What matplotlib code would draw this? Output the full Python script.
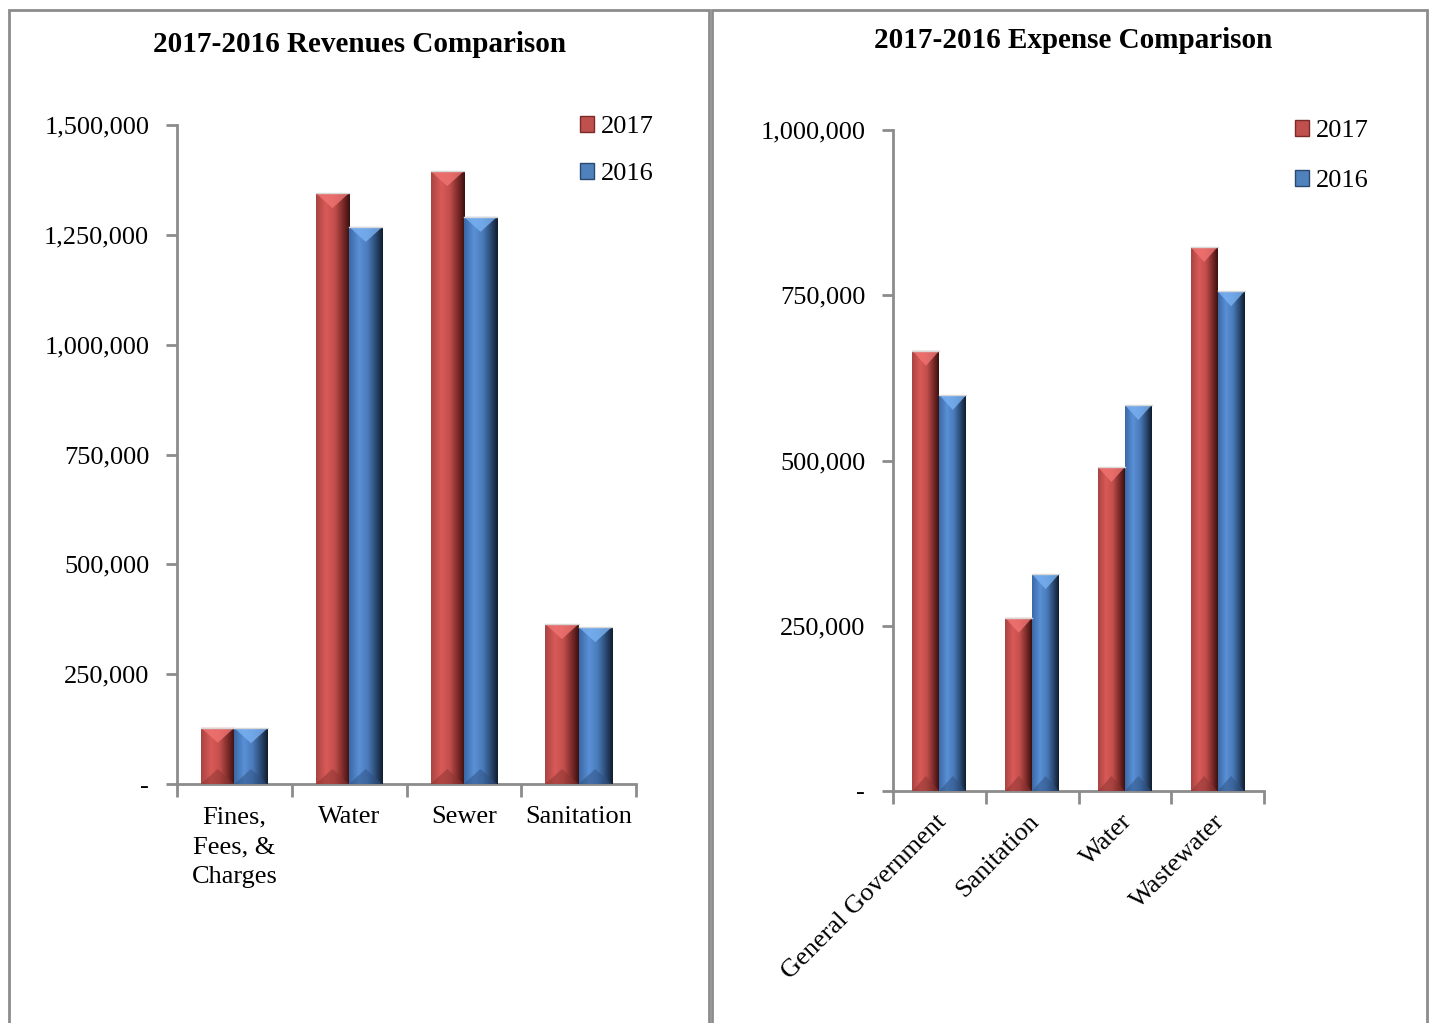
import numpy as np
import matplotlib.pyplot as plt
import matplotlib.transforms as mtransforms
from matplotlib.colors import LinearSegmentedColormap
from matplotlib.patches import Polygon, Rectangle, Patch
from matplotlib.ticker import FuncFormatter, FixedLocator

plt.rcParams['font.family'] = ['Liberation Serif', 'DejaVu Serif']

# Revenues data
rev_categories = ['Fines,\nFees, &\nCharges', 'Water', 'Sewer', 'Sanitation']
rev_2017 = [128000, 1345000, 1395000, 364000]
rev_2016 = [127000, 1268000, 1291000, 357000]

# Expense data
exp_categories = ['General Government', 'Sanitation', 'Water', 'Wastewater']
exp_2017 = [666000, 262000, 490000, 823000]
exp_2016 = [599000, 328000, 584000, 756000]

years = ['2017', '2016']

red_cmap = LinearSegmentedColormap.from_list(
    'red3d', [(0, '#a84442'), (0.3, '#d95a58'), (0.55, '#c24f4c'), (0.8, '#7a2a28'), (1, '#3a1010')])
blue_cmap = LinearSegmentedColormap.from_list(
    'blue3d', [(0, '#3a68a6'), (0.3, '#5a90d6'), (0.55, '#4a7cbc'), (0.8, '#2a4870'), (1, '#101c2c')])
top_col = {'red': '#f07472', 'blue': '#7ab2f2'}
base_col = {'red': '#8a3432', 'blue': '#2e5080'}
grad = np.linspace(0, 1, 256).reshape(1, -1)


def bevel_bars(ax, bars, cmap, kind, bevel_px):
    ymin, ymax = ax.get_ylim()
    h_px = ax.get_position().height * ax.figure.get_figheight() * ax.figure.dpi
    d = bevel_px / h_px * (ymax - ymin)
    for b in bars:
        x0, w, h = b.get_x(), b.get_width(), b.get_height()
        im = ax.imshow(grad, extent=[x0, x0 + w, 0, h], aspect='auto', cmap=cmap,
                       zorder=3, interpolation='bilinear')
        im.set_clip_path(b)
        ax.add_patch(Polygon([(x0, h), (x0 + w, h), (x0 + w / 2, h - d)],
                             closed=True, facecolor=top_col[kind], edgecolor='none',
                             alpha=0.8, zorder=4))
        ax.add_patch(Polygon([(x0, 0), (x0 + w, 0), (x0 + w / 2, d)],
                             closed=True, facecolor=base_col[kind], edgecolor='none',
                             alpha=0.5, zorder=4))
        ax.plot([x0, x0 + w], [h, h], color='#d8d8d8', lw=1, zorder=5)


def style_axis(ax, n):
    for s in ['top', 'right']:
        ax.spines[s].set_visible(False)
    for s in ['left', 'bottom']:
        ax.spines[s].set_color('#8c8c8c')
        ax.spines[s].set_linewidth(2)
    ax.set_xlim(-0.5, n - 0.5)
    ax.set_xticks(range(n))
    ax.xaxis.set_minor_locator(FixedLocator(np.arange(-0.5, n, 1)))
    ax.tick_params(axis='x', which='major', length=0)
    ax.tick_params(axis='x', which='minor', length=9, width=2, color='#8c8c8c', direction='out')
    ax.tick_params(axis='y', length=8, width=2, color='#8c8c8c', direction='out',
                   labelsize=19, pad=12)
    ax.yaxis.set_major_formatter(FuncFormatter(lambda v, p: '-' if v == 0 else f'{v:,.0f}'))


fig = plt.figure(figsize=(14.32, 10.23), dpi=100)

# panel borders
fig.patches.append(Rectangle((9 / 1432, -0.01), 700 / 1432, 1.0 - 10 / 1023 + 0.01,
                             transform=fig.transFigure, fill=False, edgecolor='#8c8c8c', lw=2))
fig.patches.append(Rectangle((712 / 1432, -0.01), 715 / 1432, 1.0 - 10 / 1023 + 0.01,
                             transform=fig.transFigure, fill=False, edgecolor='#8c8c8c', lw=2))

width = 0.29

# Left: revenues
ax1 = fig.add_axes([177 / 1432, 239 / 1023, 459 / 1432, 659 / 1023])
x = np.arange(len(rev_categories))
ax1.set_ylim(0, 1500000)
ax1.set_yticks(np.arange(0, 1500001, 250000))
b1 = ax1.bar(x - width / 2, rev_2017, width, color='#c0504d', zorder=2)
b2 = ax1.bar(x + width / 2, rev_2016, width, color='#4f81bd', zorder=2)
style_axis(ax1, len(rev_categories))
ax1.set_ylim(0, 1500000)
bevel_bars(ax1, b1, red_cmap, 'red', 15)
bevel_bars(ax1, b2, blue_cmap, 'blue', 15)
ax1.set_xlim(-0.5, len(rev_categories) - 0.5)
ax1.set_ylim(0, 1500000)
ax1.set_xticklabels(rev_categories, fontsize=19, linespacing=1.46)
ax1.tick_params(axis='x', which='major', pad=16)
fig.text(360 / 1432, 1 - 44 / 1023, '2017-2016 Revenues Comparison', ha='center', va='center',
         fontsize=21, fontweight='bold')

# Right: expenses
ax2 = fig.add_axes([893 / 1432, 232 / 1023, 371 / 1432, 661 / 1023])
x = np.arange(len(exp_categories))
ax2.set_ylim(0, 1000000)
ax2.set_yticks(np.arange(0, 1000001, 250000))
c1 = ax2.bar(x - width / 2, exp_2017, width, color='#c0504d', zorder=2)
c2 = ax2.bar(x + width / 2, exp_2016, width, color='#4f81bd', zorder=2)
style_axis(ax2, len(exp_categories))
ax2.set_ylim(0, 1000000)
bevel_bars(ax2, c1, red_cmap, 'red', 15)
bevel_bars(ax2, c2, blue_cmap, 'blue', 15)
ax2.set_xlim(-0.5, len(exp_categories) - 0.5)
ax2.set_ylim(0, 1000000)
ax2.set_xticklabels(exp_categories, fontsize=19, rotation=45, ha='right', va='top',
                    rotation_mode='anchor')
ax2.tick_params(axis='x', which='major', pad=14)
shift = mtransforms.ScaledTranslation(-4 / 100, 0, fig.dpi_scale_trans)
for lbl in ax2.get_xticklabels():
    lbl.set_transform(lbl.get_transform() + shift)
fig.text(1073 / 1432, 1 - 40 / 1023, '2017-2016 Expense Comparison', ha='center', va='center',
         fontsize=21, fontweight='bold')

# legends
handles = [Patch(facecolor='#c0504d', edgecolor='#7a2a28'),
           Patch(facecolor='#4f81bd', edgecolor='#2a4870')]
fig.legend(handles, years, loc='upper left', bbox_to_anchor=(556 / 1432, 1 - 92 / 1023),
           frameon=False, fontsize=19, handlelength=0.55, handleheight=0.55, handletextpad=0.25,
           labelspacing=0.95)
fig.legend(handles, years, loc='upper left', bbox_to_anchor=(1271 / 1432, 1 - 96 / 1023),
           frameon=False, fontsize=19, handlelength=0.55, handleheight=0.55, handletextpad=0.25,
           labelspacing=1.05)

fig.savefig('out.png', dpi=100)
